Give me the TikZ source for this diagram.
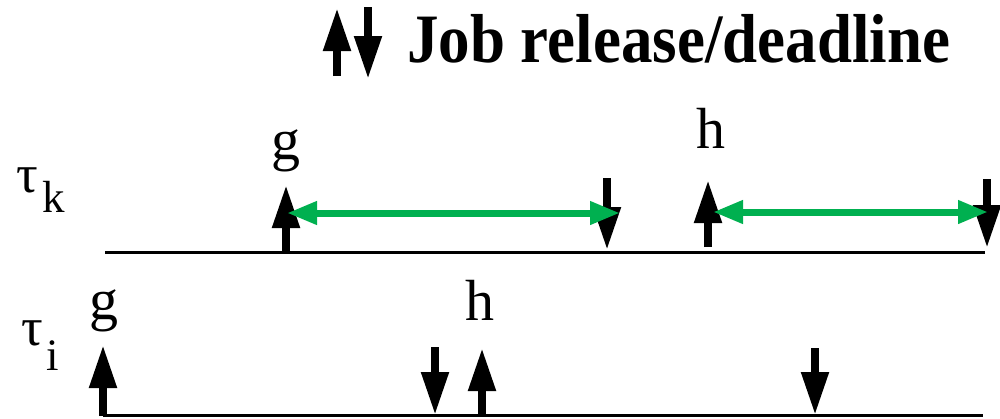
\documentclass[tikz,border=0pt]{standalone}
\usepackage{fontspec}
\setmainfont{Liberation Serif}
\usetikzlibrary{arrows.meta}
\definecolor{spangreen}{RGB}{0,176,80}
\tikzset{
  axis/.style={line width=3pt, black},
  evarrow/.style={line width=8pt, black, -{Triangle[length=43pt,width=26pt]}},
  spanarrow/.style={line width=7pt, spangreen, {Triangle[length=30pt,width=22pt]}-{Triangle[length=30pt,width=22pt]}},
  lbl/.style={inner sep=0pt, anchor=base, font=\fontsize{58}{58}\selectfont},
  taulbl/.style={inner sep=0pt, anchor=base west, font=\fontsize{54}{54}\selectfont},
  sublbl/.style={inner sep=0pt, anchor=base west, font=\fontsize{45}{45}\selectfont},
}
\begin{document}
\begin{tikzpicture}[x=1pt,y=-1pt]
\useasboundingbox (0,0) rectangle (1000,418);
% legend
\coordinate (lu0) at (337,76);
\coordinate (lu1) at (337,8);
\coordinate (ld0) at (368,7);
\coordinate (ld1) at (368,79);
\draw[evarrow] (lu0) -- (lu1);
\draw[evarrow] (ld0) -- (ld1);
\node[inner sep=0pt, anchor=base west] (title) at (407,62)
  {\scalebox{1}[1.1]{\fontsize{63}{63}\selectfont\bfseries Job release/deadline}};
% tau_k row
\node[taulbl] (tk) at (16,192) {τ};
\node[sublbl] (tksub) at (42,212) {k};
\coordinate (ka) at (105,252);
\coordinate (kb) at (985,252);
\draw[axis] (ka) -- (kb);
\coordinate (k1a) at (286,253);
\coordinate (k1b) at (286,185);
\coordinate (k2a) at (607,178);
\coordinate (k2b) at (607,250);
\coordinate (k3a) at (708,247);
\coordinate (k3b) at (708,180);
\coordinate (k4a) at (987,179);
\coordinate (k4b) at (987,248);
\draw[evarrow] (k1a) -- (k1b);
\draw[evarrow] (k2a) -- (k2b);
\draw[evarrow] (k3a) -- (k3b);
\draw[evarrow] (k4a) -- (k4b);
\node[lbl] (kg) at (286,159) {g};
\node[lbl] (kh) at (711,148) {h};
\coordinate (s1a) at (287,213);
\coordinate (s1b) at (620,213);
\coordinate (s2a) at (713,212);
\coordinate (s2b) at (988,212);
\draw[spanarrow] (s1a) -- (s1b);
\draw[spanarrow] (s2a) -- (s2b);
% tau_i row
\node[taulbl] (ti) at (21,345) {τ};
\node[sublbl] (tisub) at (46,370) {i};
\coordinate (ia) at (103,415);
\coordinate (ib) at (983,415);
\draw[axis] (ia) -- (ib);
\coordinate (i1a) at (103,416);
\coordinate (i1b) at (103,345);
\coordinate (i2a) at (435,347);
\coordinate (i2b) at (435,415);
\coordinate (i3a) at (482,416);
\coordinate (i3b) at (482,348);
\coordinate (i4a) at (815,348);
\coordinate (i4b) at (815,415);
\draw[evarrow] (i1a) -- (i1b);
\draw[evarrow] (i2a) -- (i2b);
\draw[evarrow] (i3a) -- (i3b);
\draw[evarrow] (i4a) -- (i4b);
\node[lbl] (ig) at (104,319) {g};
\node[lbl] (ih) at (480,320) {h};
\end{tikzpicture}
\end{document}
